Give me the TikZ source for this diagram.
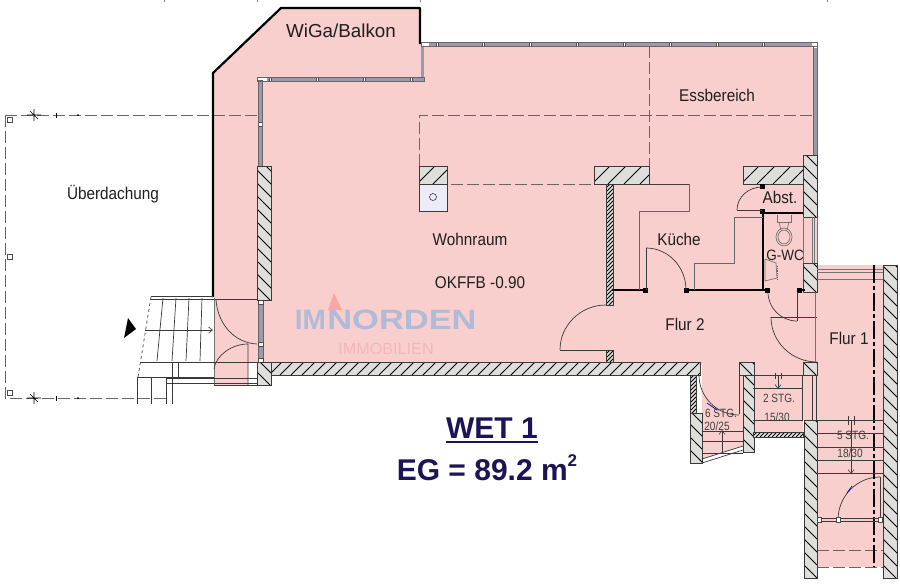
\documentclass[tikz,border=0pt]{standalone}
\usepackage{fontspec}
\setmainfont{Liberation Sans}
\usetikzlibrary{arrows.meta}
\definecolor{pinkroom}{HTML}{F8CFCD}
\definecolor{wallfill}{HTML}{DEDEDA}
\definecolor{glass}{HTML}{9C99A8}
\definecolor{navy}{HTML}{1B1558}
\definecolor{wmblue}{HTML}{AFBBD8}
\definecolor{wmred}{HTML}{F7A8A6}
\definecolor{wmtext}{HTML}{F3B7B6}
\definecolor{inkline}{HTML}{3A3A3A}
\newcommand{\hwall}[6]{%
  \begin{scope}
    \clip (#1,#2) rectangle (#3,#4);
    \fill[wallfill] (#1,#2) rectangle (#3,#4);
    \pgfmathsetmacro{\wh}{#4-(#2)}
    \pgfmathsetmacro{\ww}{#3-(#1)}
    \pgfmathsetmacro{\tstart}{-\wh}
    \pgfmathsetmacro{\tnext}{-\wh+#5}
    \foreach \t in {\tstart,\tnext,...,\ww} {
      \ifnum#6=1
        \draw[black,line width=1pt] ({#1+\t+\wh},#2) -- ({#1+\t},#4);
      \else
        \draw[black,line width=1pt] ({#1+\t},#2) -- ({#1+\t+\wh},#4);
      \fi
    }
  \end{scope}
  \draw[inkline,line width=.6pt] (#1,#2) rectangle (#3,#4);
}
% quarter-circle door swing: from A, bending towards corner C, to B
\newcommand{\qarc}[6]{%
  \draw[thin line] (#1,#2) .. controls ({#1+.5523*(#3-(#1))},{#2+.5523*(#4-(#2))}) and ({#5+.5523*(#3-(#5))},{#6+.5523*(#4-(#6))}) .. (#5,#6);
}
\newcommand{\cond}[1]{\scalebox{.9}[1]{#1}}
\newcommand{\condsm}[1]{\scalebox{.84}[1]{#1}}
\tikzset{
  lbl/.style={inner sep=0pt,text=black!88,font=\fontsize{17}{19}\selectfont},
  smalllbl/.style={inner sep=0pt,text=black!75,font=\fontsize{12}{14}\selectfont},
  thin line/.style={draw=inkline,line width=.7pt},
  counter/.style={draw=black!60,line width=.8pt},
  dashroof/.style={draw=black!60,line width=.8pt,dash pattern=on 12pt off 4pt},
  blackwall/.style={draw=black,line width=2.6pt},
  sq/.style={draw=black!70,fill=white,line width=.5pt},
  stairarrow/.style={draw=inkline,line width=.6pt,-{Straight Barb[length=4pt,width=6pt]}},
}
\begin{document}
\begin{tikzpicture}[x=1pt,y=-1pt]
\useasboundingbox (0,0) rectangle (900,587);
\fill[white] (0,0) rectangle (900,587);
% crop ticks on the top edge
\foreach \x in {164,257,420,827} \draw[black!50,line width=.5pt] (\x,0) -- (\x,2);
% room area
\fill[pinkroom] (213,73) -- (281,8) -- (420,8) -- (420,44) -- (817,44) -- (817,265) -- (883,265) -- (883,567)
  -- (817,567) -- (817,420) -- (803,420) -- (803,432) -- (753,432) -- (753,446) -- (743,446) -- (702,459) -- (702,365)
  -- (257,365) -- (257,362) -- (248,362) -- (248,385) -- (214,385) -- (214,297) -- (213,297) -- cycle;
% roof dashed lines
\draw[dashroof] (5,115) -- (257,115);
\draw[dashroof] (5,115) -- (5,398) -- (170,398);
\draw[dashroof] (419,166) -- (419,115) -- (817,115);
\draw[dashroof] (649,46) -- (649,166);
\draw[dashroof] (419,184) -- (594,184);
\draw[black!75,line width=.9pt] (649,184) -- (689,184);
\draw[dashroof] (817,550) -- (883,550);
\draw[dashroof] (817,567) -- (883,567);
\foreach \y in {120,257,393} \draw[sq] (7.5,\y-2.5) rectangle (12.5,\y+2.5);
\foreach \y in {115,398} {
  \draw[black,line width=.6pt] (27,\y) -- (41,\y) (34,\y-6) -- (34,\y+6) (30,\y-4) -- (38,\y+4);
  \draw[black,line width=.5pt] (56,\y-2) -- (56,\y+3);
  \fill[black] (78,\y) circle (1pt);
}
% outer black balcony
\draw[black,line width=2.2pt,line join=bevel] (420,44) -- (420,8) -- (281,8) -- (213,73) -- (213,297);
% glazing
\fill[glass] (421,42.5) rectangle (817,46);
\fill[glass] (257,77.5) rectangle (424,81);
\fill[glass] (421,44) rectangle (424,80);
\fill[glass] (258,80) rectangle (262,166);
\fill[glass] (813,44) rectangle (817,155);
\foreach \x in {437,483,530,577,624,670,717,763} \draw[sq] (\x-1,42.5) rectangle (\x+1,46);
\foreach \x in {270,317,364,411} \draw[sq] (\x-1,77.5) rectangle (\x+1,81);
\draw[sq] (258,122) rectangle (262,126);
\fill[white] (257,77) rectangle (267,81);\fill[white] (421,42) rectangle (429,46);\fill[white] (812,42) rectangle (817,48);
\draw[black!60,line width=.4pt] (257,77) rectangle (424,81);
\draw[black!60,line width=.4pt] (421,42.5) rectangle (817,46);
\draw[black!60,line width=.4pt] (258,80) rectangle (262,166);
\draw[black!60,line width=.4pt] (813,46) rectangle (817,155);
% lower left glazing
\fill[glass] (258,300) rectangle (263,362);
\draw[black!60,line width=.4pt] (258,300) rectangle (263,362);
\foreach \y in {302,344,360} \draw[sq] (258,\y-2) rectangle (263,\y+2);
% hatched walls
\hwall{257}{166}{271}{300}{13}{-1}
\hwall{419}{166}{447}{184}{16}{1}
\fill[blue!5!white!95!gray] (419,184) rectangle (447,211);
\draw[inkline,line width=.6pt] (419,184) rectangle (447,211);
\draw[inkline,line width=.6pt] (433,197) circle (3.5pt);
\hwall{594}{166}{649}{184}{16}{1}
\hwall{743}{166}{803}{184}{16}{1}
\hwall{803}{155}{817}{217}{13}{-1}
\hwall{803}{263}{817}{292}{13}{-1}
\hwall{271}{362}{700}{375}{11}{1}
\hwall{257}{362}{271}{385}{13}{-1}
\hwall{606}{184}{613}{305}{4}{1}
\hwall{606}{350}{613}{362}{4}{1}
\hwall{690}{375}{696}{413}{4}{1}
\hwall{690}{413}{702}{463}{13}{-1}
\hwall{743}{375}{754}{452}{13}{-1}
\hwall{739}{362}{754}{375}{13}{-1}
\hwall{753}{432}{803}{437}{4}{1}
\hwall{803}{362}{817}{375}{13}{-1}
\hwall{804}{420}{817}{578}{13}{-1}
\hwall{883}{265}{897}{578}{13}{-1}
% black partitions
\draw[blackwall] (612,290) -- (645,290);
\draw[blackwall] (686,290) -- (765,290);
\draw[blackwall] (763,211) -- (763,290);
\draw[blackwall] (763,213) -- (803,213);
\draw[blackwall] (797,290) -- (805,290);
\foreach \x/\y in {645/290,686/290,767/290,799/290,762/186,762/211} \fill[black] (\x-2.5,\y-2.5) rectangle (\x+2.5,\y+2.5);
% kitchen counters
\draw[counter] (689,184) -- (689,211) -- (639,211) -- (639,290);
\draw[counter] (694,290) -- (694,263) -- (734,263) -- (734,217) -- (763,217);
% WC
\draw[thin line,draw=black!55] (777,215) -- (777,222) -- (791,222) -- (791,215);
\draw[thin line,draw=black!55] (779,222) -- (781,230) (789,222) -- (787,230);
\draw[thin line,draw=black!55] (784,237) ellipse (8pt and 9pt);
\draw[thin line,draw=black!55] (784,237) ellipse (6pt and 7pt);
\draw[thin line,draw=black!55] (803,217) -- (803,263) (812,217) -- (812,263) (814,217) -- (814,263) (817,217) -- (817,263);
\draw[thin line,draw=black!55] (765,259) -- (776,263) -- (777,278) -- (765,281) -- cycle;
\draw[blue!70,densely dotted,line width=.8pt] (777,266) -- (777,280);
% doors
\draw[thin line] (646,290) -- (646,248);
\qarc{646}{248}{686}{248}{686}{290}
\draw[thin line] (737,210) -- (762,210);
\qarc{762}{187}{737}{187}{737}{210}
\qarc{606}{305}{560}{305}{560}{350}
\draw[thin line] (560,350) -- (606,350);
\qarc{768}{292}{768}{321}{797}{321}
\draw[thin line] (797,321) -- (797,292);
\draw[thin line] (817,317) -- (771,317);
\qarc{771}{317}{771}{362}{817}{362}
\draw[thin line,draw=black!55] (815,292) -- (815,362);
\qarc{699}{375}{699}{415}{739}{415}
\draw[thin line] (739,375) -- (739,414);
\draw[blue!70!black,line width=.7pt] (707,403) -- (717,410);
\qarc{838}{520}{838}{477}{880}{477}
\draw[thin line] (880,477) -- (880,520);
\draw[blue!70!black,line width=.7pt] (847,493) -- (852,486);
% Flur 1
\draw[thin line,draw=black!55] (817,269) -- (883,269) (817,272) -- (883,272) (817,279) -- (883,279);
\draw[black,line width=1.8pt,dash pattern=on 18pt off 3pt on 4pt off 3pt] (874,265) -- (874,567);
\draw[inkline,line width=1pt] (817,518.5) -- (883,518.5) (817,521.5) -- (883,521.5);
\foreach \x in {819,838,880} \draw[sq] (\x-2,517.5) rectangle (\x+2,522.5);
% stairs 5
\foreach \y in {420,433,447,460,473} \draw[thin line] (817,\y) -- (883,\y);
\draw[stairarrow] (851,420) -- (851,474);
\draw[thin line] (848,416) -- (848,425) (854,416) -- (854,425);
% stairs 2
\draw[thin line] (753,375) -- (803,375) (753,388) -- (803,388) (753,420) -- (803,420) (802,375) -- (802,420);
\draw[thin line] (812,375) -- (812,420) (816,375) -- (816,420);
\draw[stairarrow] (778,375) -- (778,389);
\draw[thin line] (775,373) -- (775,379) (781,373) -- (781,379);
% stairs 6
\foreach \y in {431,441,453} \draw[thin line] (702,\y) -- (743,\y);
\draw[stairarrow] (722,452) -- (722,430);
\draw[inkline,line width=.7pt] (702,459) -- (743,446) (702,463) -- (743,450);
% entrance stairs
\draw[thin line] (151,296) -- (213,296) (151,299) -- (257,299);
\draw[thin line,dashed] (151,297) -- (138,377);
\foreach \a/\b in {163/157,176/172,189/186,202/200} \draw[thin line] (\a,298) -- (\b,361);
\draw[thin line,draw=black!55] (214,298) -- (214,385);
\draw[thin line] (140,362) -- (257,362);
\draw[thin line] (138,377) -- (214,377);
\draw[thin line] (167,378) -- (257,378) (167,383) -- (257,383) (214,385) -- (257,385);
\draw[stairarrow] (145,330) -- (213,330);
\draw[thin line] (137,377) -- (137,404) (151,377) -- (151,404) (166,378) -- (166,404) (172,362) -- (172,404) (178,362) -- (178,377);
\draw[thin line] (216,300) .. controls (218,325) and (235,343) .. (257,344);
\draw[thin line] (214,369) .. controls (216,355) and (232,344) .. (248,344) -- (248,385);
\fill[black] (128,318) -- (136,329) -- (124,338) -- cycle;
% watermark
\fill[wmred] (334,293) -- (328,310) -- (342,310) -- cycle;
\node[inner sep=0pt,text=wmblue] (imlabel) at (310.5,320) {\bfseries\fontsize{28}{30}\selectfont IM};
\node[inner sep=0pt,text=wmblue] (nordenlabel) at (402,320) {\bfseries\fontsize{28}{30}\selectfont\scalebox{1.23}[1]{NORDEN}};
\node[inner sep=0pt,text=wmtext,font=\fontsize{16.2}{18}\selectfont] (immolabel) at (386,349) {IMMOBILIEN};
% room labels
\node[lbl,font=\fontsize{18.8}{20}\selectfont] (wiga) at (341,31) {WiGa/Balkon};
\node[lbl] (ueber) at (113,194) {\cond{Überdachung}};
\node[lbl] (ess) at (717,95) {\cond{Essbereich}};
\node[lbl] (wohn) at (470,239) {\cond{Wohnraum}};
\node[lbl] (okffb) at (480,283) {\cond{OKFFB -0.90}};
\node[lbl] (kueche) at (679,239) {\cond{Küche}};
\node[lbl] (abst) at (780,197) {\cond{Abst.}};
\node[lbl,font=\fontsize{15}{17}\selectfont] (gwc) at (785,255) {\cond{G-WC}};
\node[lbl] (flur2) at (685,324) {\cond{Flur 2}};
\node[lbl] (flur1) at (849,338) {\cond{Flur 1}};
\node[smalllbl] (s6a) at (721,413) {\condsm{6 STG.}};
\node[smalllbl] (s6b) at (717,426) {\condsm{20/25}};
\node[smalllbl] (s2a) at (779,398) {\condsm{2 STG.}};
\node[smalllbl] (s2b) at (777,417) {\condsm{15/30}};
\node[smalllbl] (s5a) at (853,435) {\condsm{5 STG.}};
\node[smalllbl] (s5b) at (850,453) {\condsm{18/30}};
% title
\node[inner sep=0pt,text=navy,font=\bfseries\fontsize{30}{32}\selectfont] (wet) at (492,428) {WET 1};
\draw[navy,line width=2.4pt] (446,442) -- (538,442);
\node[inner sep=0pt,text=navy,font=\bfseries\fontsize{30}{32}\selectfont] (eg) at (487,468) {EG = 89.2 m\raisebox{.48em}{\fontsize{17}{18}\selectfont 2}};
\end{tikzpicture}
\end{document}
